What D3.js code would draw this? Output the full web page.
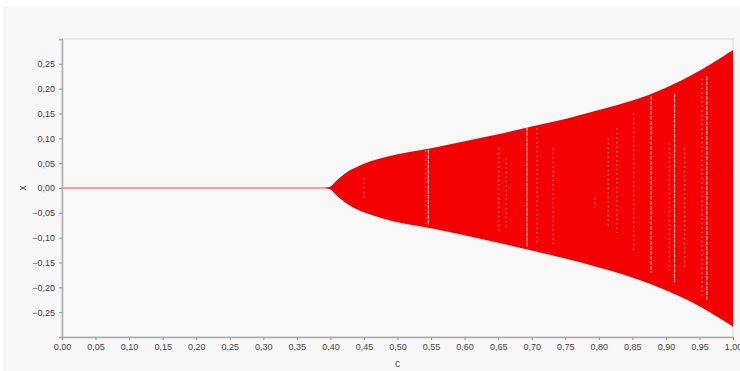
<!DOCTYPE html>
<html><head><meta charset="utf-8">
<script src="https://cdn.jsdelivr.net/npm/d3@7/dist/d3.min.js"></script>
<style>
html,body{margin:0;padding:0;background:#fff;}
svg{display:block;}
text{font-family:"Liberation Sans",Arial,sans-serif;}
</style></head><body>
<svg id="chart" width="740" height="371"></svg>
<script>
// Envelope of the attractor (c -> x extent)
const envC     = [0.00, 0.39, 0.40, 0.41, 0.42, 0.43, 0.45, 0.47, 0.50, 0.55, 0.60, 0.65, 0.70, 0.75, 0.80, 0.85, 0.90, 0.95, 1.00];
const envUpper = [0.00, 0.000, 0.003, 0.016, 0.027, 0.036, 0.049, 0.058, 0.068, 0.080, 0.094, 0.108, 0.124, 0.139, 0.157, 0.176, 0.202, 0.236, 0.278];
const envLower = [0.00, 0.000, -0.003, -0.016, -0.027, -0.036, -0.049, -0.058, -0.069, -0.081, -0.095, -0.110, -0.126, -0.142, -0.160, -0.180, -0.206, -0.238, -0.279];
// Periodic windows (white gaps): c position, x range, density
const gapC    = [0.450, 0.542, 0.546, 0.651, 0.662, 0.693, 0.708, 0.732, 0.794, 0.814, 0.827, 0.852, 0.878, 0.905, 0.913, 0.928, 0.954, 0.961];
const gapHi   = [0.020, 0.076, 0.077, 0.080, 0.060, 0.122, 0.120, 0.080, -0.02, 0.100, 0.120, 0.150, 0.185, 0.090, 0.190, 0.080, 0.220, 0.225];
const gapLo   = [-0.020,-0.074,-0.075,-0.090,-0.080,-0.118,-0.110,-0.115,-0.04,-0.080,-0.090,-0.130,-0.170,-0.170,-0.190,-0.160,-0.220,-0.225];
const gapDens = [0.5, 0.6, 1.0, 0.5, 0.4, 1.0, 0.6, 0.7, 0.4, 0.5, 0.5, 0.6, 0.9, 0.6, 0.9, 0.5, 0.6, 0.9];
const xTicks = d3.range(0, 21).map(i => i * 0.05);
const yTicks = d3.range(-5, 6).map(i => i * 0.05);

const svg = d3.select("#chart");
const W = 740, H = 371;
const m = {left: 62, right: 733, top: 39, bottom: 337};

svg.append("rect").attr("x", 3).attr("y", 6).attr("width", W - 3).attr("height", H - 6).attr("fill", "#f7f7f7");

const x = d3.scaleLinear().domain([0, 1]).range([m.left, m.right]);
const y = d3.scaleLinear().domain([-0.3, 0.3]).range([m.bottom, m.top]);

// frame
svg.append("rect").attr("x", m.left).attr("y", m.top).attr("width", m.right - m.left).attr("height", m.bottom - m.top)
  .attr("fill", "#f8f8f8").attr("stroke", "#dcdcdc").attr("stroke-width", 1);

const env = envC.map((c, i) => ({c, hi: envUpper[i], lo: envLower[i]}));

// thin line at x = 0 before bifurcation
svg.append("line").attr("x1", x(0)).attr("x2", x(0.40)).attr("y1", y(0)).attr("y2", y(0))
  .attr("stroke", "#f44").attr("stroke-width", 1.2);

const area = d3.area().x(d => x(d.c)).y0(d => y(d.lo)).y1(d => y(d.hi)).curve(d3.curveCatmullRom.alpha(0.5));
svg.append("path").datum(env.filter(d => d.c >= 0.39)).attr("d", area).attr("fill", "#f50000");

// white gaps
gapC.forEach((c, i) => {
  svg.append("line")
    .attr("x1", x(c)).attr("x2", x(c))
    .attr("y1", y(gapHi[i])).attr("y2", y(gapLo[i]))
    .attr("stroke", "#fff").attr("stroke-width", 1)
    .attr("stroke-opacity", 0.35 + 0.5 * gapDens[i])
    .attr("stroke-dasharray", gapDens[i] > 0.85 ? "4,1" : "1.5,3");
});

const fmt = v => d3.format(".2f")(v).replace(".", ",").replace("-0,00", "0,00");

// axes
const xAxis = svg.append("g").attr("transform", `translate(0,${m.bottom})`)
  .call(d3.axisBottom(x).tickValues(xTicks).tickFormat(fmt).tickSize(3).tickPadding(4));
const yAxis = svg.append("g").attr("transform", `translate(${m.left},0)`)
  .call(d3.axisLeft(y).tickValues(yTicks).tickFormat(fmt).tickSize(3).tickPadding(4));
[xAxis, yAxis].forEach(g => {
  g.select(".domain").attr("stroke", "#aaa").attr("stroke-width", 1.5);
  g.selectAll(".tick line").attr("stroke", "#999");
  g.selectAll(".tick text").attr("fill", "#444").style("font-size", "9px");
});

svg.append("text").attr("x", x(0.5)).attr("y", 367).attr("text-anchor", "middle")
  .attr("fill", "#444").style("font-size", "10px").text("c");
svg.append("text").attr("transform", `translate(23,${y(0)}) rotate(-90)`).attr("text-anchor", "middle")
  .attr("dy", "0.32em").attr("fill", "#444").style("font-size", "10px").text("x");
</script>
</body></html>
